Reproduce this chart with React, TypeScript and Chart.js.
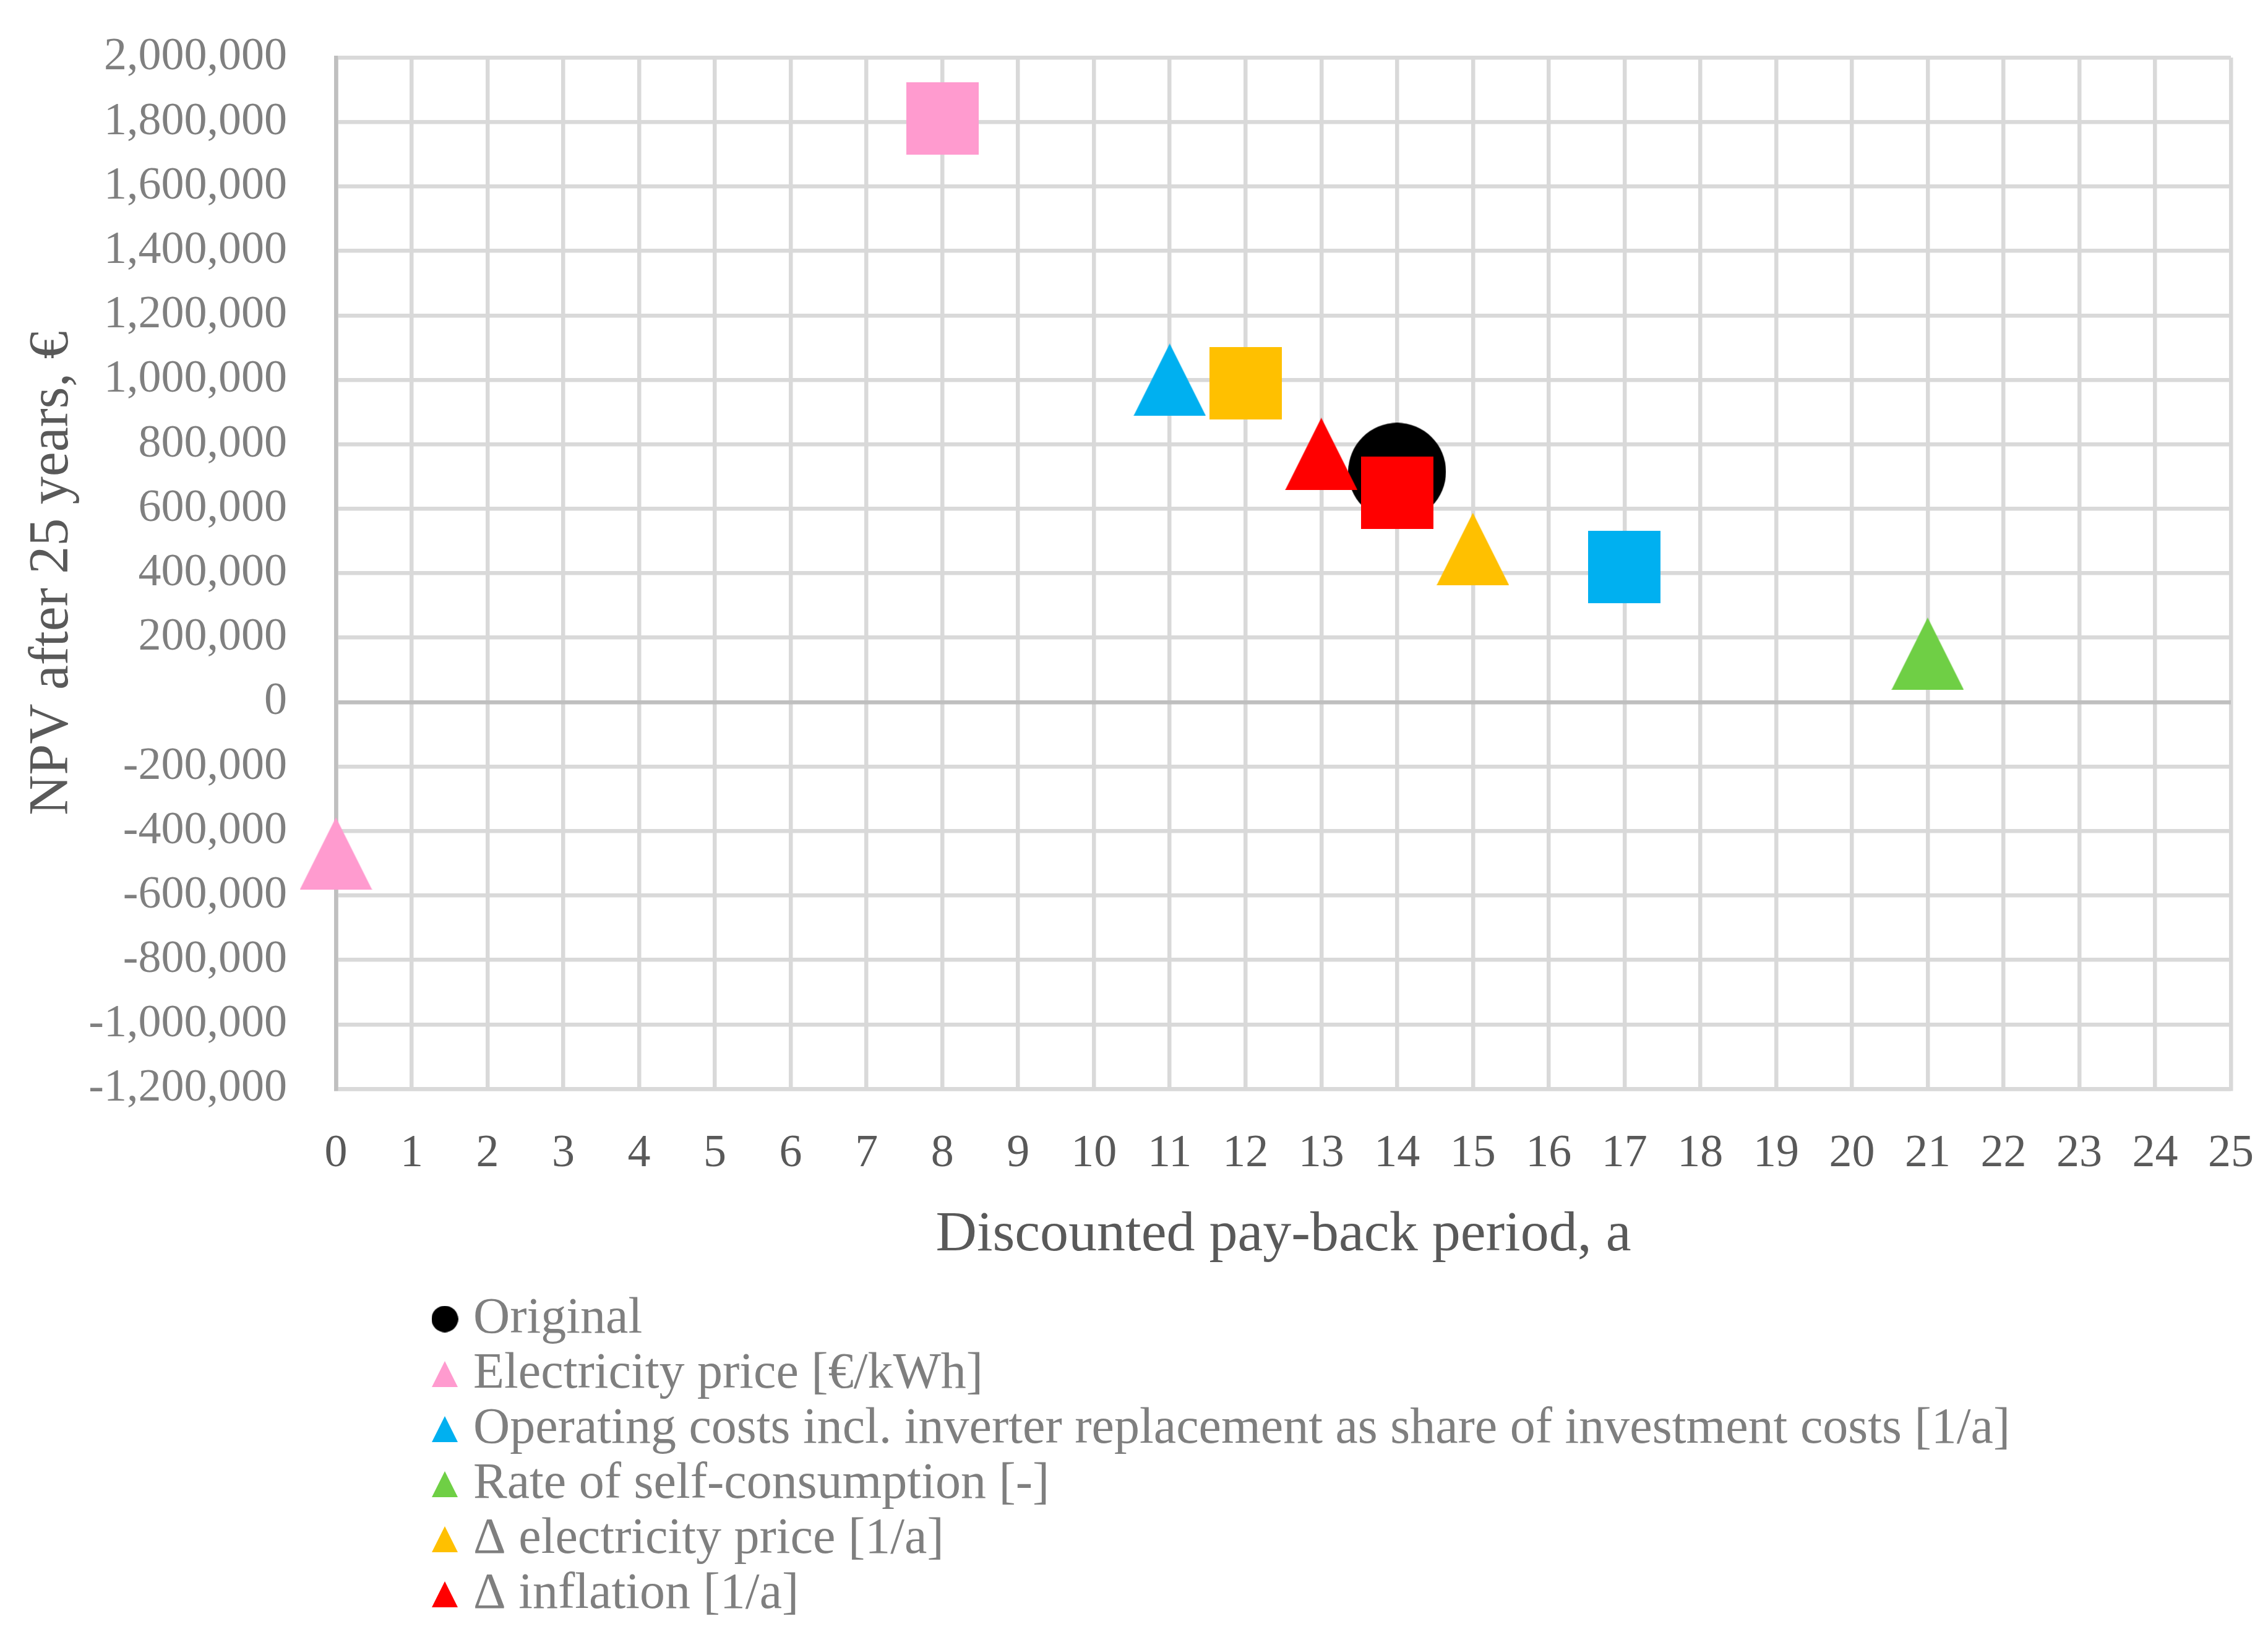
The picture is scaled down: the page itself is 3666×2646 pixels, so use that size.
import React, { useEffect, useRef } from 'react';
import { Chart, registerables } from 'chart.js';

Chart.register(...registerables);

// ---------- data ----------
const seriesLabels = [
  'Original',
  'Electricity price [€/kWh]',
  'Operating costs incl. inverter replacement as share of investment costs [1/a]',
  'Rate of self-consumption [-]',
  'Δ electricity price [1/a]',
  'Δ inflation [1/a]',
];
const seriesColors = ['#000000', '#FF9BCF', '#00B0F0', '#6FCF45', '#FFC000', '#FF0000'];
// discounted pay-back period (a) per point of each series
const paybackYears = [[14], [0, 8], [11, 17], [21], [15, 12], [13, 14]];
// NPV after 25 years (€) per point of each series
const npvValues = [
  [715000],
  [-470000, 1810000],
  [1000000, 420000],
  [150000],
  [475000, 990000],
  [770000, 650000],
];
// marker shape per point
const markerShapes = [
  ['circle'],
  ['triangle', 'square'],
  ['triangle', 'square'],
  ['triangle'],
  ['triangle', 'square'],
  ['triangle', 'square'],
];
const legendShapes = ['circle', 'triangle', 'triangle', 'triangle', 'triangle', 'triangle'];

const xTitle = 'Discounted pay-back period, a';
const yTitle = 'NPV after 25 years, €';

const FONT = '"Liberation Serif", "Times New Roman", serif';

function makeMarker(shape: string, color: string, size: number): HTMLCanvasElement {
  const c = document.createElement('canvas');
  c.width = size;
  c.height = size;
  const g = c.getContext('2d')!;
  g.fillStyle = color;
  g.beginPath();
  if (shape === 'circle') {
    g.arc(size / 2, size / 2, size / 2, 0, Math.PI * 2);
  } else if (shape === 'square') {
    g.rect(0, 0, size, size);
  } else {
    g.moveTo(size / 2, 0);
    g.lineTo(size, size);
    g.lineTo(0, size);
    g.closePath();
  }
  g.fill();
  return c;
}

function markerSize(shape: string) {
  return shape === 'circle' ? 158 : 117;
}

export default function App() {
  const ref = useRef<HTMLCanvasElement | null>(null);

  useEffect(() => {
    if (!ref.current) return;

    const legendIcons = legendShapes.map((s, i) =>
      makeMarker(s, seriesColors[i], s === 'circle' ? 43 : 42)
    );

    const legendPlugin = {
      id: 'verticalLegend',
      afterDraw(chart: any) {
        const ctx = chart.ctx as CanvasRenderingContext2D;
        const area = chart.chartArea;
        const iconX = area.left + 176;
        const textX = area.left + 222;
        const firstY = area.bottom + 372;
        const step = 89;
        ctx.save();
        ctx.font = `82px ${FONT}`;
        ctx.textBaseline = 'middle';
        ctx.textAlign = 'left';
        ctx.fillStyle = '#7F7F7F';
        seriesLabels.forEach((label, i) => {
          const y = firstY + i * step;
          const icon = legendIcons[i];
          ctx.drawImage(icon, iconX - icon.width / 2, y - icon.height / 2);
          ctx.fillText(label, textX, y);
        });
        ctx.restore();
      },
    };

    const datasets = seriesLabels.map((label, i) => ({
      label,
      data: paybackYears[i].map((x, j) => ({ x, y: npvValues[i][j] })),
      pointStyle: markerShapes[i].map((s) => makeMarker(s, seriesColors[i], markerSize(s))),
      pointRadius: 10,
      pointHoverRadius: 10,
      backgroundColor: seriesColors[i],
      borderColor: seriesColors[i],
      borderWidth: 0,
      showLine: false,
      clip: false as any,
      order: i === 0 ? 10 : 0,
    }));

    const gridColor = (c: any) => (c.tick && c.tick.value === 0 ? '#BFBFBF' : '#D9D9D9');

    const chart = new Chart(ref.current, {
      type: 'scatter',
      data: { datasets },
      plugins: [legendPlugin],
      options: {
        animation: false,
        responsive: false,
        devicePixelRatio: 1,
        events: [],
        layout: { padding: { left: 0, top: 93, right: 60, bottom: 586 } },
        plugins: {
          legend: { display: false },
          tooltip: { enabled: false },
        },
        scales: {
          x: {
            type: 'linear',
            min: 0,
            max: 25,
            afterFit: (s: any) => {
              s.height = 300;
            },
            ticks: {
              stepSize: 1,
              color: '#595959',
              font: { family: FONT, size: 74, lineHeight: 2.865 },
              padding: 0,
              maxRotation: 0,
              autoSkip: false,
            },
            grid: { color: gridColor, lineWidth: 6.5, drawTicks: false },
            border: { color: '#D9D9D9', width: 6.5 },
            title: {
              display: true,
              text: xTitle,
              color: '#595959',
              font: { family: FONT, size: 92, lineHeight: 1 },
              padding: { top: 0, bottom: 17 },
            },
          },
          y: {
            type: 'linear',
            min: -1200000,
            max: 2000000,
            afterFit: (s: any) => {
              s.width = 543;
            },
            ticks: {
              stepSize: 200000,
              color: '#7F7F7F',
              font: { family: FONT, size: 74, lineHeight: 0.3 },
              padding: 79,
              callback: (v: any) => Number(v).toLocaleString('en-US'),
            },
            grid: { color: gridColor, lineWidth: 6.5, drawTicks: false },
            border: { color: '#BFBFBF', width: 6.5 },
            title: {
              display: true,
              text: yTitle,
              color: '#595959',
              font: { family: FONT, size: 90, lineHeight: 1 },
              padding: { top: 40, bottom: 0 },
            },
          },
        },
      },
    });

    return () => chart.destroy();
  }, []);

  return (
    <div style={{ position: 'absolute', left: 0, top: 0, width: 3666, height: 2646, background: '#fff' }}>
      <canvas ref={ref} width={3666} height={2646} style={{ display: 'block', width: 3666, height: 2646 }} />
    </div>
  );
}
